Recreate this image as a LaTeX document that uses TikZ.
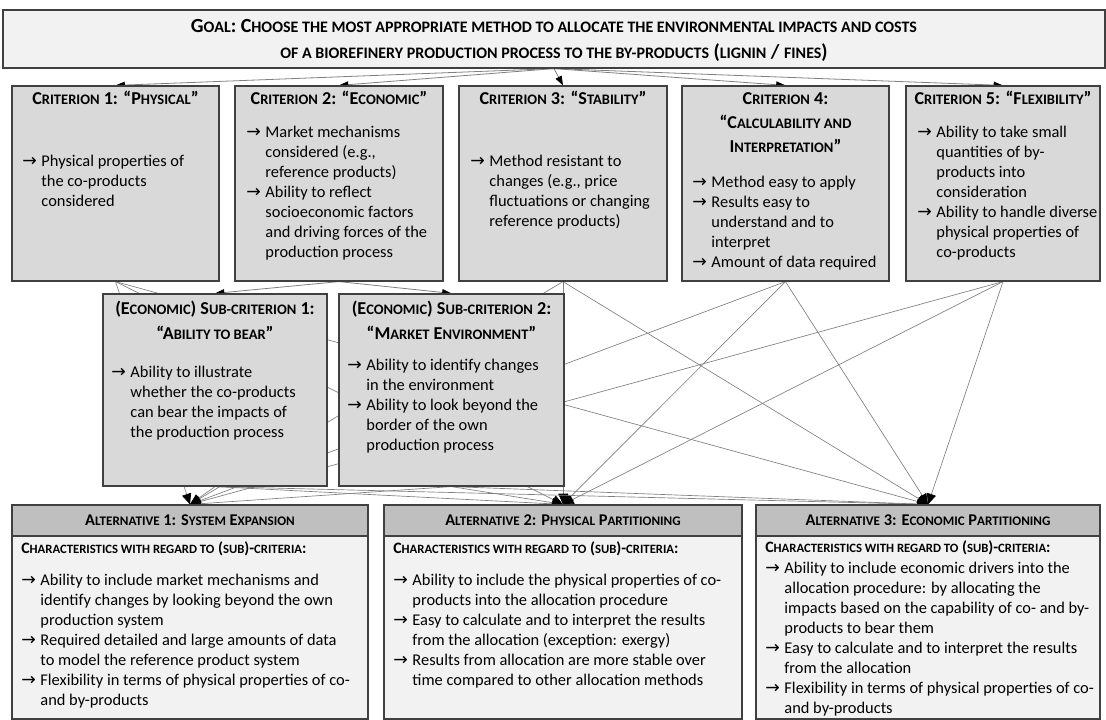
\documentclass[tikz,border=0pt]{standalone}
\usepackage{fontspec}
\setmainfont{Carlito}
\newfontfamily\arrfont{DejaVu Sans}
\usetikzlibrary{arrows.meta, positioning, backgrounds}
\definecolor{critgray}{HTML}{D9D9D9}
\definecolor{paleg}{HTML}{F2F2F2}
\definecolor{altgray}{HTML}{BFBFBF}
\definecolor{boxline}{HTML}{404040}
\definecolor{linkgray}{HTML}{808080}
\makeatletter
\newcommand{\lsc}[1]{{\fontsize{\fpeval{0.8*\f@size}}{0}\selectfont\MakeUppercase{#1}}}
\makeatother
\newcommand{\aro}{{\arrfont\fontsize{13}{15}\selectfont →}}
\tikzset{
  sz/.style 2 args={minimum width=#1*0.75pt, minimum height=#2*0.75pt},
  box/.style={draw=boxline, line width=0.9pt, inner sep=0pt},
  critbox/.style={box, fill=critgray},
  palebox/.style={box, fill=paleg},
  althead/.style={box, fill=altgray},
  head/.style={inner sep=0pt, anchor=base, font=\fontsize{13.6}{18}\selectfont\bfseries},
  body/.style={inner sep=0pt, anchor=base west, font=\fontsize{12.3}{15}\selectfont},
  link/.style={draw=linkgray, line width=0.5pt, -{Triangle[length=8pt, width=7pt, black]}},
  goallink/.style={draw=linkgray, line width=0.6pt, -{Triangle[length=7pt, width=5pt, black]}}
}
\begin{document}
\begin{tikzpicture}[x=0.75pt, y=-0.75pt]
\useasboundingbox (0,0) rectangle (1106,720);

% goal
\node[palebox, sz={1102}{58}] (goal) at (554,39) {};
\node[head, font=\fontsize{15}{19.5}\selectfont\bfseries] (goalt) at (554,33) {\begin{tabular}[t]{@{}c@{}}G\lsc{oal}: C\lsc{hoose the most appropriate method to allocate the environmental impacts and costs}\\ \lsc{of a biorefinery production process to the by-products} (\lsc{lignin} / \lsc{fines})\end{tabular}};

% criteria
\node[critbox, sz={207}{195}] (c1) at (115.5,183.5) {};
\node[critbox, sz={208}{195}] (c2) at (339,183.5) {};
\node[critbox, sz={208}{195}] (c3) at (563,183.5) {};
\node[critbox, sz={207}{195}] (c4) at (785.5,183.5) {};
\node[critbox, sz={194}{195}] (c5) at (1003,183.5) {};

\node[head] (c1h) at (115.5,105) {C\lsc{riterion} 1: “P\lsc{hysical}”};
\node[head] (c2h) at (339,105) {C\lsc{riterion} 2: “E\lsc{conomic}”};
\node[head] (c3h) at (563,105) {C\lsc{riterion} 3: “S\lsc{tability}”};
\node[head] (c4h) at (785.5,105) {\begin{tabular}[t]{@{}c@{}}C\lsc{riterion} 4:\\ “C\lsc{alculability and}\\ I\lsc{nterpretation}”\end{tabular}};
\node[head] (c5h) at (1003,105) {C\lsc{riterion} 5: “F\lsc{lexibility}”};

\node[body] (c1t) at (22,167) {\begin{tabular}[t]{@{}l@{\hspace{3.5pt}}l@{}}\aro & Physical properties of\\ & the co-products\\ & considered\end{tabular}};
\node[body] (c2t) at (246,138) {\begin{tabular}[t]{@{}l@{\hspace{3.5pt}}l@{}}\aro & Market mechanisms\\ & considered (e.g.,\\ & reference products)\\ \aro & Ability to reflect\\ & socioeconomic factors\\ & and driving forces of the\\ & production process\end{tabular}};
\node[body] (c3t) at (470,167) {\begin{tabular}[t]{@{}l@{\hspace{3.5pt}}l@{}}\aro & Method resistant to\\ & changes (e.g., price\\ & fluctuations or changing\\ & reference products)\end{tabular}};
\node[body] (c4t) at (692,188) {\begin{tabular}[t]{@{}l@{\hspace{3.5pt}}l@{}}\aro & Method easy to apply\\ \aro & Results easy to\\ & understand and to\\ & interpret\\ \aro & Amount of data required\end{tabular}};
\node[body] (c5t) at (917,138) {\begin{tabular}[t]{@{}l@{\hspace{3.5pt}}l@{}}\aro & Ability to take small\\ & quantities of by-\\ & products into\\ & consideration\\ \aro & Ability to handle diverse\\ & physical properties of\\ & co-products\end{tabular}};

% sub-criteria
\node[critbox, sz={224}{192}] (s1) at (215,390) {};
\node[critbox, sz={225}{192}] (s2) at (451.5,390) {};
\node[head] (s1h) at (215,315) {\begin{tabular}[t]{@{}c@{}}(E\lsc{conomic}) S\lsc{ub-criterion} 1:\\ “A\lsc{bility to bear}”\end{tabular}};
\node[head] (s2h) at (451.5,315) {\begin{tabular}[t]{@{}c@{}}(E\lsc{conomic}) S\lsc{ub-criterion} 2:\\ “M\lsc{arket} E\lsc{nvironment}”\end{tabular}};
\node[body] (s1t) at (111,377) {\begin{tabular}[t]{@{}l@{\hspace{3.5pt}}l@{}}\aro & Ability to illustrate\\ & whether the co-products\\ & can bear the impacts of\\ & the production process\end{tabular}};
\node[body] (s2t) at (347,370) {\begin{tabular}[t]{@{}l@{\hspace{3.5pt}}l@{}}\aro & Ability to identify changes\\ & in the environment\\ \aro & Ability to look beyond the\\ & border of the own\\ & production process\end{tabular}};

% alternatives
\node[palebox, sz={356}{183}] (a1b) at (190,627.5) {};
\node[palebox, sz={358}{183}] (a2b) at (563,627.5) {};
\node[palebox, sz={344}{183}] (a3b) at (928,627.5) {};
\node[althead, sz={356}{31}] (a1) at (190,520.5) {};
\node[althead, sz={358}{31}] (a2) at (563,520.5) {};
\node[althead, sz={344}{31}] (a3) at (928,520.5) {};
\node[head, font=\fontsize{12.3}{15}\selectfont\bfseries] (a1h) at (190,525) {A\lsc{lternative} 1: S\lsc{ystem} E\lsc{xpansion}};
\node[head, font=\fontsize{12.3}{15}\selectfont\bfseries] (a2h) at (563,525) {A\lsc{lternative} 2: P\lsc{hysical} P\lsc{artitioning}};
\node[head, font=\fontsize{12.3}{15}\selectfont\bfseries] (a3h) at (928,525) {A\lsc{lternative} 3: E\lsc{conomic} P\lsc{artitioning}};

\node[body, font=\fontsize{11.9}{15}\selectfont\bfseries] (a1c) at (21,553) {C\lsc{haracteristics with regard to} (\lsc{sub})-\lsc{criteria}:};
\node[body, font=\fontsize{11.9}{15}\selectfont\bfseries] (a2c) at (393,553) {C\lsc{haracteristics with regard to} (\lsc{sub})-\lsc{criteria}:};
\node[body, font=\fontsize{11.9}{15}\selectfont\bfseries] (a3c) at (765,552) {C\lsc{haracteristics with regard to} (\lsc{sub})-\lsc{criteria}:};

\node[body] (a1t) at (21,585) {\begin{tabular}[t]{@{}l@{\hspace{3.5pt}}l@{}}\aro & Ability to include market mechanisms and\\ & identify changes by looking beyond the own\\ & production system\\ \aro & Required detailed and large amounts of data\\ & to model the reference product system\\ \aro & Flexibility in terms of physical properties of co-\\ & and by-products\end{tabular}};
\node[body] (a2t) at (393,585) {\begin{tabular}[t]{@{}l@{\hspace{3.5pt}}l@{}}\aro & Ability to include the physical properties of co-\\ & products into the allocation procedure\\ \aro & Easy to calculate and to interpret the results\\ & from the allocation (exception: exergy)\\ \aro & Results from allocation are more stable over\\ & time compared to other allocation methods\end{tabular}};
\node[body] (a3t) at (765,573) {\begin{tabular}[t]{@{}l@{\hspace{3.5pt}}l@{}}\aro & Ability to include economic drivers into the\\ & allocation procedure: by allocating the\\ & impacts based on the capability of co- and by-\\ & products to bear them\\ \aro & Easy to calculate and to interpret the results\\ & from the allocation\\ \aro & Flexibility in terms of physical properties of co-\\ & and by-products\end{tabular}};

% connectors behind the boxes
\begin{scope}[on background layer]
\foreach \c in {c1,c2,c3,c4,c5}
  \draw[goallink] (goal.south) -- (\c.north);
\foreach \s in {s1,s2}
  \draw[goallink] (c2.south) -- (\s.north);
\foreach \src in {c1,c3,c4,c5,s1,s2}
  \foreach \alt in {a1,a2,a3}
    \draw[link] (\src.south) -- (\alt.north);
\end{scope}
\end{tikzpicture}
\end{document}
